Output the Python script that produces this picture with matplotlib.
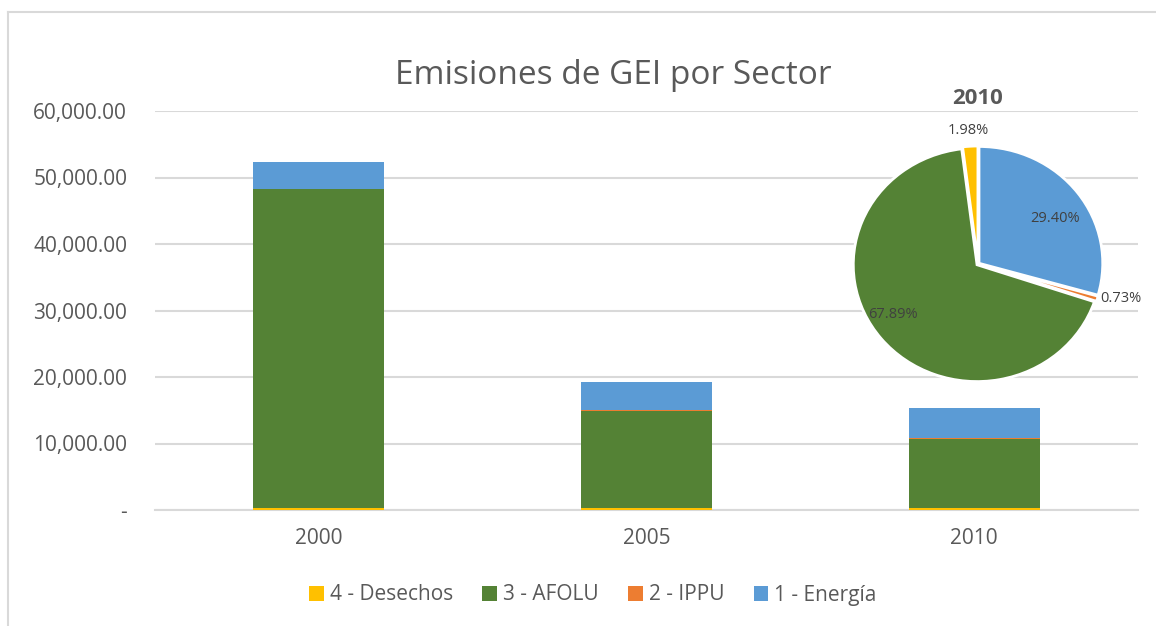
import matplotlib
matplotlib.use("Agg")
import matplotlib.pyplot as plt
from matplotlib.lines import Line2D
import numpy as np

plt.rcParams['font.family'] = ['Open Sans', 'DejaVu Sans']

years = ["2000", "2005", "2010"]
sectors = ["1 - Energía", "2 - IPPU", "3 - AFOLU", "4 - Desechos"]
energia = [4060, 4250, 4500]
ippu = [60, 150, 111.7]
afolu = [47950, 14550, 10391]
desechos = [300, 300, 303]
colors = {"1 - Energía": "#5B9BD5", "2 - IPPU": "#ED7D31",
          "3 - AFOLU": "#548235", "4 - Desechos": "#FFC000"}
yticks = [0, 10000, 20000, 30000, 40000, 50000, 60000]
ytick_labels = ["-", "10,000.00", "20,000.00", "30,000.00", "40,000.00", "50,000.00", "60,000.00"]
pie_title = "2010"

W, H = 1156, 626
fig = plt.figure(figsize=(W / 100, H / 100), dpi=100)
txt = "#595959"
grid = "#D9D9D9"

ax = fig.add_axes([155 / W, 1 - 510 / H, (1138 - 155) / W, (510 - 111) / H])
x = np.arange(len(years))
bw = 0.4
series = [("4 - Desechos", desechos), ("3 - AFOLU", afolu), ("2 - IPPU", ippu), ("1 - Energía", energia)]
bottom = np.zeros(len(years))
handles = {}
for name, vals in series:
    b = ax.bar(x, vals, bw, bottom=bottom, color=colors[name], label=name, zorder=3)
    handles[name] = b
    bottom += np.array(vals, dtype=float)

ax.set_xlim(-0.5, 2.5)
ax.set_ylim(0, 60000)
ax.set_yticks(yticks)
ax.set_yticklabels(ytick_labels)
ax.set_xticks(x)
ax.set_xticklabels(years)
ax.tick_params(axis='both', length=0, labelsize=15, colors=txt)
ax.tick_params(axis='y', pad=20)
ax.tick_params(axis='x', pad=13)
ax.yaxis.grid(True, color=grid, linewidth=1.5, zorder=0)
for s in ["top", "right", "left"]:
    ax.spines[s].set_visible(False)
ax.spines["bottom"].set_color(grid)
ax.spines["bottom"].set_linewidth(1.5)

fig.text(613 / W, 1 - 75 / H, "Emisiones de GEI por Sector", ha="center", va="center",
         fontsize=24, color=txt)

order = ["4 - Desechos", "3 - AFOLU", "2 - IPPU", "1 - Energía"]
leg = fig.legend([handles[n] for n in order], order, loc="center", bbox_to_anchor=(593 / W, 1 - 595 / H),
                 ncol=4, frameon=False, fontsize=15, handlelength=0.7, handleheight=0.7,
                 handletextpad=0.3, columnspacing=1.4)
for t in leg.get_texts():
    t.set_color(txt)

# Pie inset (slightly stretched horizontally as in the reference)
rx, ry = 125, 118
cx, cy = 978, 264
pax = fig.add_axes([(cx - rx) / W, 1 - (cy + ry) / H, 2 * rx / W, 2 * ry / H])
pie_vals = [energia[2], ippu[2], afolu[2], desechos[2]]
pie_cols = [colors[s] for s in sectors]
wedges, _ = pax.pie(pie_vals, colors=pie_cols, startangle=90, counterclock=False,
                    explode=[0.01, 0.01, 0.01, 0.01],
                    wedgeprops=dict(edgecolor="white", linewidth=2), radius=0.99)
pax.set_xlim(-1, 1)
pax.set_ylim(-1, 1)
pax.set_aspect("auto")
total = sum(pie_vals)
pcts = [v / total * 100 for v in pie_vals]
label_pos = [(1055, 218), (1121, 299), (893, 314), (968, 131)]
for p, (lx, ly) in zip(pcts, label_pos):
    fig.text(lx / W, 1 - ly / H, f"{p:.2f}%", ha="center", va="center", fontsize=10.5, color="#404040")
fig.text(cx / W, 1 - 98 / H, pie_title, ha="center", va="center", fontsize=16,
         fontweight="bold", color=txt)

# chart border (left and top)
fig.add_artist(Line2D([8 / W, 8 / W], [0, 1 - 12 / H], transform=fig.transFigure, color=grid, linewidth=1.5))
fig.add_artist(Line2D([8 / W, 1], [1 - 12 / H, 1 - 12 / H], transform=fig.transFigure, color=grid, linewidth=1.5))

fig.savefig("out.png", dpi=100)
